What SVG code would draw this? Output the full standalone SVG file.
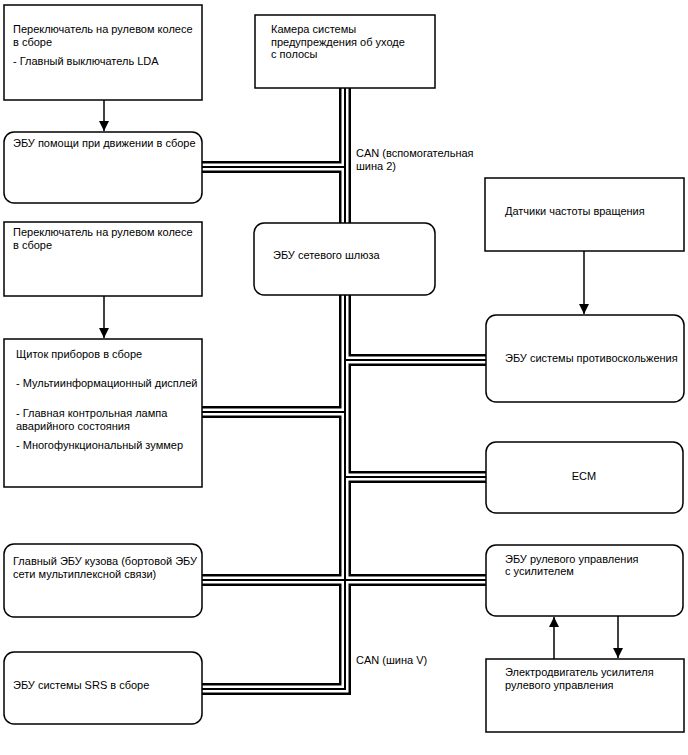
<svg xmlns="http://www.w3.org/2000/svg" xmlns:xlink="http://www.w3.org/1999/xlink" width="688" height="755" viewBox="0 0 688 755">
<style>
text{font-family:"Liberation Sans",Arial,sans-serif;font-size:11px;fill:#000}
.box{fill:#fff;stroke:#000;stroke-width:1.5}
.arrow{stroke:#000;stroke-width:1.5;fill:none}
.b1{fill:none;stroke:#000;stroke-width:12;stroke-linejoin:miter}
.b2{fill:none;stroke:#fff;stroke-width:7;stroke-linejoin:miter}
.b3{fill:none;stroke:#000;stroke-width:2;stroke-linejoin:miter}
</style>
<defs>
<marker id="ah" viewBox="0 0 10 14" refX="10" refY="7" markerWidth="10" markerHeight="14" markerUnits="userSpaceOnUse" orient="auto">
<path d="M0,2 L10,7 L0,12 Z" fill="#000"/>
</marker>
<g id="busPaths">
<path d="M345,88 V223"/>
<path d="M202,167 H345"/>
<path d="M345,295 V689 H202"/>
<path d="M345,360 H486"/>
<path d="M202,412 H345"/>
<path d="M345,477 H486"/>
<path d="M202,580 H486"/>
</g>
</defs>
<g id="connectors">
<use xlink:href="#busPaths" class="b1"/>
<use xlink:href="#busPaths" class="b2"/>
<use xlink:href="#busPaths" class="b3"/>
<path class="arrow" d="M104,100 V131" marker-end="url(#ah)"/>
<path class="arrow" d="M104,296 V338" marker-end="url(#ah)"/>
<path class="arrow" d="M584,251 V314" marker-end="url(#ah)"/>
<path class="arrow" d="M554,659 V617" marker-end="url(#ah)"/>
<path class="arrow" d="M618,616 V658" marker-end="url(#ah)"/>
<text x="356" y="157">CAN (вспомогательная</text>
<text x="356" y="170">шина 2)</text>
<text x="356" y="664">CAN (шина V)</text>
</g>
<g id="n1"><rect class="box" x="4" y="5" width="198" height="95"/>
<text x="13" y="33">Переключатель на рулевом колесе</text>
<text x="13" y="46">в сборе</text>
<text x="13" y="65">- Главный выключатель LDA</text></g>
<g id="n2"><rect class="box" x="4" y="132" width="198" height="71" rx="10"/>
<text x="13" y="147">ЭБУ помощи при движении в сборе</text></g>
<g id="n3"><rect class="box" x="4" y="222" width="198" height="74"/>
<text x="13" y="236">Переключатель на рулевом колесе</text>
<text x="13" y="249">в сборе</text></g>
<g id="n4"><rect class="box" x="4" y="339" width="198" height="148"/>
<text x="16" y="358">Щиток приборов в сборе</text>
<text x="16" y="387">- Мультиинформационный дисплей</text>
<text x="16" y="417">- Главная контрольная лампа</text>
<text x="16" y="430">аварийного состояния</text>
<text x="16" y="449">- Многофункциональный зуммер</text></g>
<g id="n5"><rect class="box" x="4" y="544" width="198" height="73" rx="10"/>
<text x="13" y="565">Главный ЭБУ кузова (бортовой ЭБУ</text>
<text x="13" y="578">сети мультиплексной связи)</text></g>
<g id="n6"><rect class="box" x="4" y="652" width="198" height="72" rx="10"/>
<text x="13" y="689">ЭБУ системы SRS в сборе</text></g>
<g id="n7"><rect class="box" x="255" y="15" width="180" height="73"/>
<text x="271" y="33">Камера системы</text>
<text x="271" y="46">предупреждения об уходе</text>
<text x="271" y="58">с полосы</text></g>
<g id="n8"><rect class="box" x="254" y="223" width="181" height="72" rx="10"/>
<text x="273" y="259">ЭБУ сетевого шлюза</text></g>
<g id="n9"><rect class="box" x="485" y="178" width="199" height="73"/>
<text x="505" y="215">Датчики частоты вращения</text></g>
<g id="n10"><rect class="box" x="486" y="315" width="198" height="87" rx="10"/>
<text x="505" y="362">ЭБУ системы противоскольжения</text></g>
<g id="n11"><rect class="box" x="486" y="442" width="197" height="71" rx="10"/>
<text x="584" y="480" text-anchor="middle">ECM</text></g>
<g id="n12"><rect class="box" x="486" y="545" width="197" height="71" rx="10"/>
<text x="505" y="563">ЭБУ рулевого управления</text>
<text x="505" y="575">с усилителем</text></g>
<g id="n13"><rect class="box" x="486" y="659" width="198" height="73"/>
<text x="505" y="676">Электродвигатель усилителя</text>
<text x="505" y="689">рулевого управления</text></g>
</svg>
